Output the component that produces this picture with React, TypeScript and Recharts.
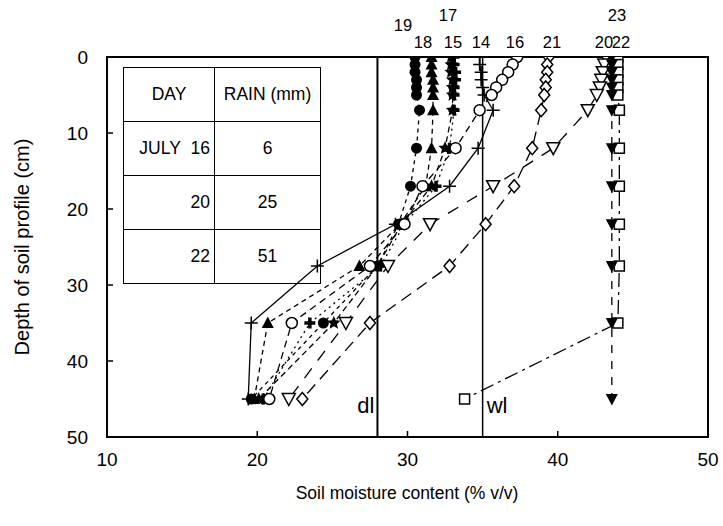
import React from 'react';
import { LineChart, Line, XAxis, YAxis, ReferenceLine, ReferenceArea } from 'recharts';

// depth of each reading (cm)
const depths = [0, 1, 2, 3, 4, 5, 7, 12, 17, 22, 27.5, 35, 45];

// soil moisture (% v/v) per day, one value per depth
const day14 = [34.8, 34.8, 34.9, 34.9, 35.0, 35.1, 35.7, 34.7, 32.8, 29.2, 24.0, 19.6, 19.4];
const day15 = [32.9, 32.9, 32.9, 33.0, 33.0, 33.0, 33.0, 32.5, 31.6, 29.6, 28.0, 25.1, 20.1];
const day16 = [37.3, 37.0, 36.7, 36.3, 35.9, 35.6, 34.8, 33.2, 31.0, 29.8, 27.5, 22.3, 20.8];
const day17 = [33.1, 33.1, 33.2, 33.2, 33.1, 33.1, 33.1, 32.8, 31.9, 29.8, 28.2, 23.5, 20.4];
const day18 = [31.6, 31.6, 31.6, 31.7, 31.7, 31.7, 31.7, 31.6, 31.2, 29.5, 26.8, 20.7, 19.8];
const day19 = [30.5, 30.5, 30.5, 30.6, 30.6, 30.6, 30.8, 30.6, 30.2, 29.4, 28.0, 24.4, 19.6];
const day20 = [43.2, 43.1, 43.0, 42.9, 42.8, 42.6, 42.0, 39.7, 35.7, 31.5, 28.7, 25.9, 22.1];
const day21 = [39.4, 39.3, 39.3, 39.2, 39.2, 39.1, 38.9, 38.3, 37.1, 35.2, 32.8, 27.5, 23.0];
const day22 = [44.0, 44.0, 44.0, 44.0, 44.0, 44.0, 44.1, 44.1, 44.1, 44.1, 44.1, 44.0, 33.8];
const day23 = [43.6, 43.6, 43.6, 43.6, 43.6, 43.6, 43.6, 43.6, 43.6, 43.6, 43.6, 43.6, 43.6];

const xTicks = [10, 20, 30, 40, 50];
const yTicks = [0, 10, 20, 30, 40, 50];

const drainedLimit = 28;
const wiltLimit = 35;

const tableDays = ['JULY\u00a0\u00a016', '20', '22'];
const tableRain = ['6', '25', '51'];

const FONT = '"Liberation Sans", Arial, Helvetica, sans-serif';

const toRows = (vals: number[]) => depths.map((d, i) => ({ depth: d, m: vals[i] }));

const series = [
  { id: 'd14', vals: day14, marker: 'plus', dash: undefined },
  { id: 'd19', vals: day19, marker: 'circleFilled', dash: '4 4' },
  { id: 'd18', vals: day18, marker: 'triUpFilled', dash: '5 4' },
  { id: 'd15', vals: day15, marker: 'starFilled', dash: '6 4' },
  { id: 'd17', vals: day17, marker: 'plusBold', dash: '2 4' },
  { id: 'd16', vals: day16, marker: 'circleOpen', dash: '7 5' },
  { id: 'd21', vals: day21, marker: 'diamondOpen', dash: '12 7' },
  { id: 'd20', vals: day20, marker: 'triDownOpen', dash: '12 10' },
  { id: 'd22', vals: day22, marker: 'squareOpen', dash: '14 5 3 5' },
  { id: 'd23', vals: day23, marker: 'triDownFilled', dash: '8 8' },
];

// day labels sitting above the frame
const dayLabels = [
  { t: '19', x: 403, y: 25 },
  { t: '17', x: 448, y: 15 },
  { t: '18', x: 423, y: 42 },
  { t: '15', x: 453, y: 42 },
  { t: '14', x: 481, y: 42 },
  { t: '16', x: 515, y: 42 },
  { t: '21', x: 552, y: 42 },
  { t: '20', x: 604, y: 42 },
  { t: '22', x: 621, y: 42 },
  { t: '23', x: 617, y: 15 },
];

function Marker({ cx, cy, kind }: any) {
  if (cx == null || cy == null) return null;
  const k = '#000';
  switch (kind) {
    case 'circleFilled':
      return <circle cx={cx} cy={cy} r={5.5} fill={k} />;
    case 'circleOpen':
      return <circle cx={cx} cy={cy} r={5.5} fill="#fff" stroke={k} strokeWidth={1.5} />;
    case 'triUpFilled':
      return <path d={`M${cx},${cy - 6.5}L${cx + 6},${cy + 5}L${cx - 6},${cy + 5}Z`} fill={k} />;
    case 'triDownFilled':
      return <path d={`M${cx},${cy + 6.5}L${cx + 6},${cy - 5}L${cx - 6},${cy - 5}Z`} fill={k} />;
    case 'triDownOpen':
      return <path d={`M${cx},${cy + 6.5}L${cx + 6.5},${cy - 5.5}L${cx - 6.5},${cy - 5.5}Z`} fill="#fff" stroke={k} strokeWidth={1.5} />;
    case 'squareOpen':
      return <rect x={cx - 5} y={cy - 5} width={10} height={10} fill="#fff" stroke={k} strokeWidth={1.5} />;
    case 'diamondOpen':
      return <path d={`M${cx},${cy - 6.5}L${cx + 5.5},${cy}L${cx},${cy + 6.5}L${cx - 5.5},${cy}Z`} fill="#fff" stroke={k} strokeWidth={1.5} />;
    case 'plus':
      return <path d={`M${cx - 6.5},${cy}H${cx + 6.5}M${cx},${cy - 6.5}V${cy + 6.5}`} stroke={k} strokeWidth={1.5} />;
    case 'plusBold':
      return <path d={`M${cx - 5.5},${cy}H${cx + 5.5}M${cx},${cy - 5.5}V${cy + 5.5}`} stroke={k} strokeWidth={3.5} />;
    case 'starFilled': {
      const pts: string[] = [];
      for (let i = 0; i < 10; i++) {
        const r = i % 2 === 0 ? 7 : 3.3;
        const a = -Math.PI / 2 + (i * Math.PI) / 5;
        pts.push(`${cx + r * Math.cos(a)},${cy + r * Math.sin(a)}`);
      }
      return <polygon points={pts.join(' ')} fill={k} />;
    }
    default:
      return null;
  }
}

const limitLabel = (text: string, side: 'left' | 'right') => (p: any) => {
  const vb = p.viewBox;
  return (
    <text
      x={side === 'left' ? vb.x - 3 : vb.x + 4}
      y={vb.y + vb.height - 24}
      textAnchor={side === 'left' ? 'end' : 'start'}
      fontSize={22}
      fontFamily={FONT}
      fill="#000"
    >
      {text}
    </text>
  );
};

export default function App() {
  const tick = { fill: '#000', fontSize: 19, fontFamily: FONT };
  const cell: React.CSSProperties = { border: '1.5px solid #000', padding: 0, fontSize: 17.5, fontFamily: FONT, whiteSpace: 'nowrap' };
  return (
    <div style={{ position: 'absolute', left: 0, top: 0, width: 723, height: 526, background: '#fff' }}>
      <LineChart width={723} height={526} layout="vertical" margin={{ top: 57, right: 15, bottom: 29, left: 20 }}>
        <XAxis
          type="number"
          domain={[10, 50]}
          ticks={xTicks}
          allowDataOverflow
          height={60}
          tickSize={-6}
          tickMargin={22}
          tick={tick}
          axisLine={{ stroke: '#000', strokeWidth: 2 }}
          tickLine={{ stroke: '#000', strokeWidth: 1.5 }}
          label={() => (
            <text x={407} y={499} textAnchor="middle" fontSize={17.5} fontFamily={FONT} fill="#000">
              Soil moisture content (% v/v)
            </text>
          )}
        />
        <YAxis
          type="number"
          dataKey="depth"
          domain={[0, 50]}
          ticks={yTicks}
          allowDataOverflow
          width={87}
          tickSize={-6}
          tickMargin={25}
          tick={tick}
          axisLine={{ stroke: '#000', strokeWidth: 2 }}
          tickLine={{ stroke: '#000', strokeWidth: 1.5 }}
          label={() => (
            <text
              x={29}
              y={247}
              transform="rotate(-90 29 247)"
              textAnchor="middle"
              fontSize={20}
              fontFamily={FONT}
              fill="#000"
            >
              Depth of soil profile (cm)
            </text>
          )}
        />
        <ReferenceArea x1={10} x2={50} y1={0} y2={50} fill="none" stroke="#000" strokeWidth={2} />
        <ReferenceLine x={drainedLimit} stroke="#000" strokeWidth={2} label={limitLabel('dl', 'left')} />
        <ReferenceLine x={wiltLimit} stroke="#000" strokeWidth={1.5} label={limitLabel('wl', 'right')} />
        {series.map((s) => (
          <Line
            key={s.id}
            data={toRows(s.vals)}
            dataKey="m"
            type="linear"
            stroke="#000"
            strokeWidth={1.3}
            strokeDasharray={s.dash}
            isAnimationActive={false}
            activeDot={false}
            dot={(p: any) => <Marker key={`${s.id}-${p.index}`} cx={p.cx} cy={p.cy} kind={s.marker} />}
          />
        ))}
      </LineChart>

      {dayLabels.map((l) => (
        <div
          key={l.t + l.x}
          style={{
            position: 'absolute',
            left: l.x - 15,
            top: l.y - 10,
            width: 30,
            textAlign: 'center',
            fontSize: 16.5,
            lineHeight: '20px',
            fontFamily: FONT,
            color: '#000',
          }}
        >
          {l.t}
        </div>
      ))}

      <table
        style={{
          position: 'absolute',
          left: 123,
          top: 67,
          width: 195,
          height: 214,
          borderCollapse: 'collapse',
          tableLayout: 'fixed',
          pointerEvents: 'none',
        }}
      >
        <tbody>
          <tr style={{ height: 54 }}>
            <td style={{ ...cell, width: 90, textAlign: 'center' }}>DAY</td>
            <td style={{ ...cell, width: 105, textAlign: 'center' }}>RAIN (mm)</td>
          </tr>
          {tableDays.map((d, i) => (
            <tr key={d} style={{ height: 54 }}>
              <td style={{ ...cell, textAlign: 'right', paddingRight: 4 }}>{d}</td>
              <td style={{ ...cell, textAlign: 'center' }}>{tableRain[i]}</td>
            </tr>
          ))}
        </tbody>
      </table>
    </div>
  );
}
